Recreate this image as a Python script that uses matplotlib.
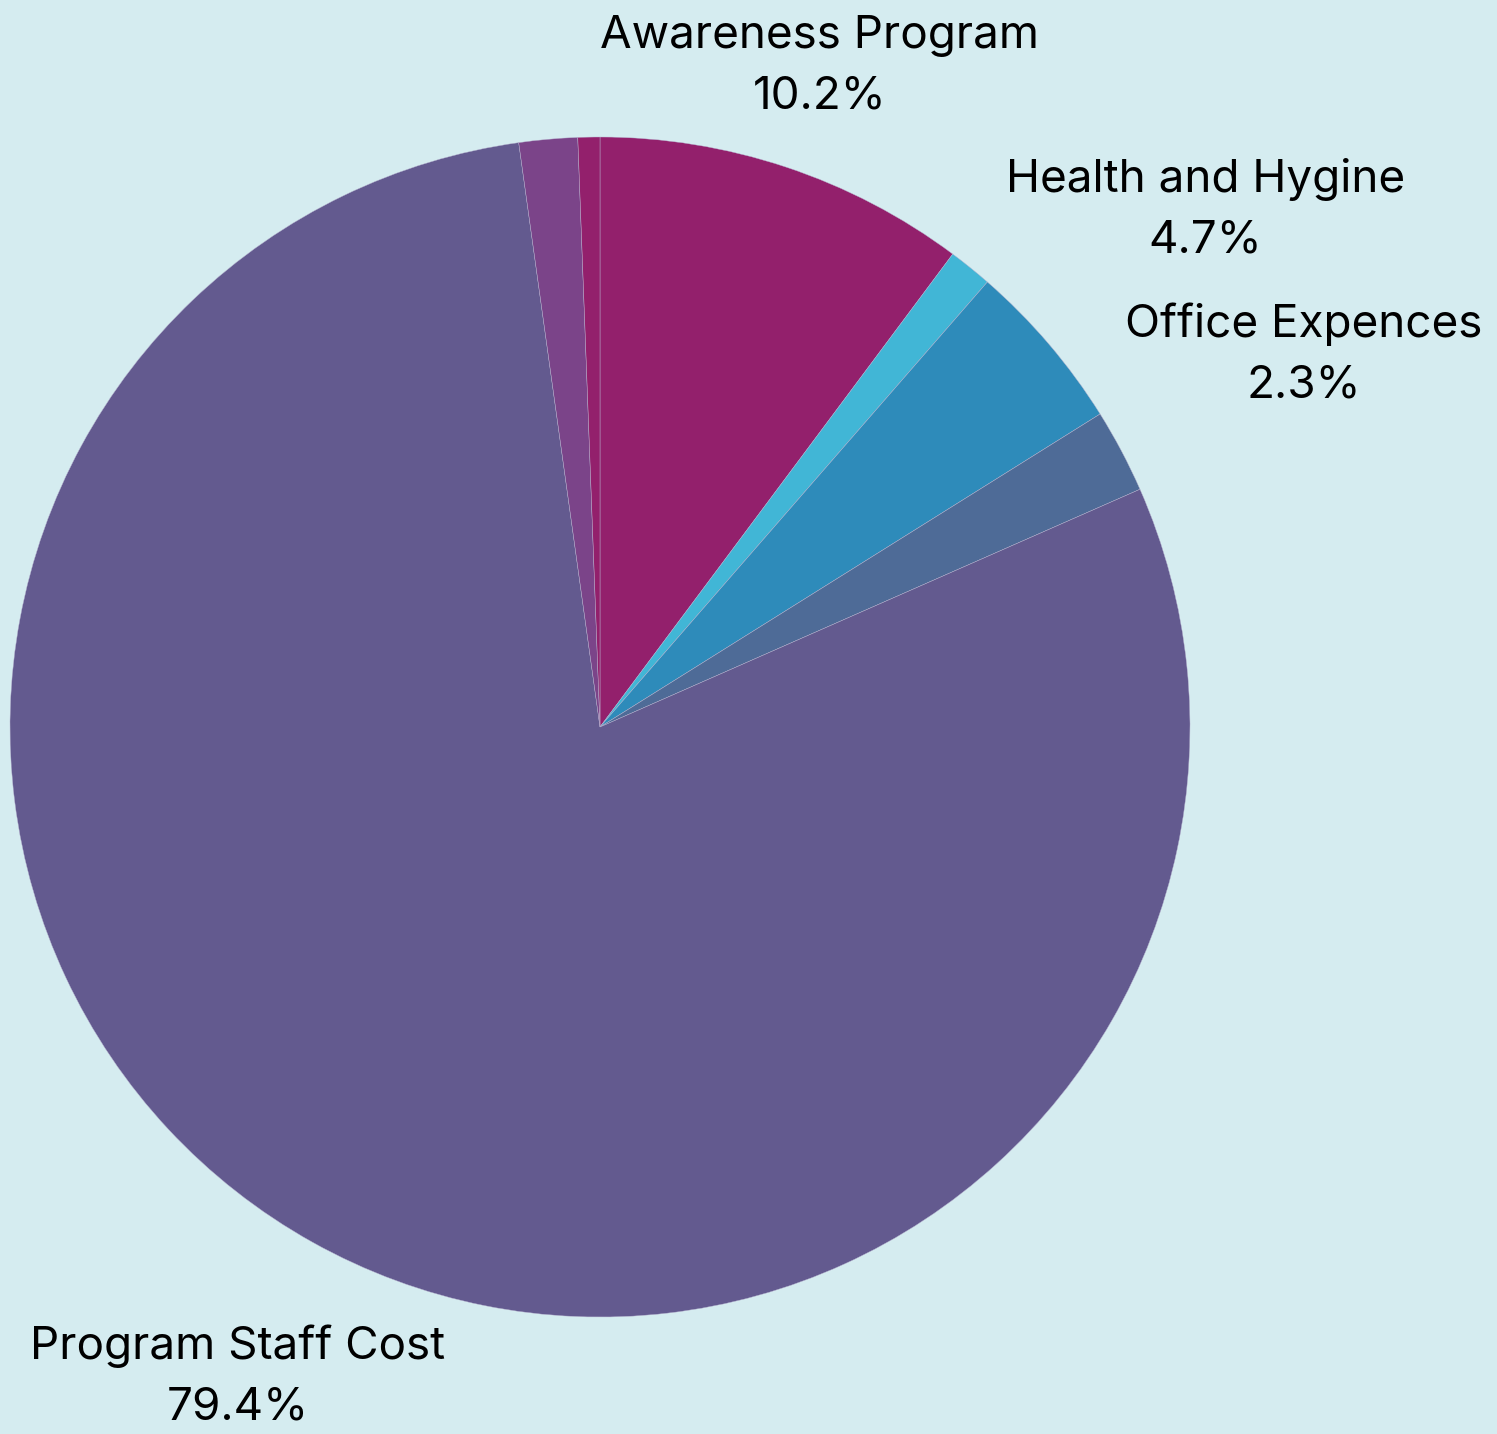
import numpy as np
import matplotlib
matplotlib.use("Agg")
import matplotlib.pyplot as plt

labels = ["Awareness Program", "", "Health and Hygine", "Office Expences",
          "Program Staff Cost", "", ""]
shares = [10.2, 1.2, 4.7, 2.3, 79.4, 1.6, 0.6]
colors = ["#93206C", "#41B6D6", "#2E8BBA", "#4E6B97", "#635A8F", "#7B4489", "#93206C"]
label_dist = [1.18, 0, 1.35, 1.35, 1.26, 0, 0]

bg = "#D5ECF0"

def main():
    plt.rcParams['font.family'] = ['Inter', 'DejaVu Sans']
    W, H = 1497, 1434
    fig = plt.figure(figsize=(W / 100, H / 100), dpi=100, facecolor=bg)
    cx, cy, r = 600, 727, 590
    ax = fig.add_axes([(cx - r) / W, (H - cy - r) / H, 2 * r / W, 2 * r / H])
    ax.set_facecolor(bg)

    wedges, _ = ax.pie(shares, colors=colors, startangle=90, counterclock=False,
                       radius=1, wedgeprops=dict(linewidth=0.3, edgecolor="#B8B4D0"))
    ax.set_xlim(-1, 1)
    ax.set_ylim(-1, 1)
    ax.set_aspect("equal")
    ax.axis("off")

    for w, name, val, d in zip(wedges, labels, shares, label_dist):
        if not name:
            continue
        mid = np.deg2rad((w.theta1 + w.theta2) / 2)
        x, y = d * np.cos(mid), d * np.sin(mid)
        ax.text(x, y, f"{name}\n{val}%", ha="center", va="center", fontsize=33,
                linespacing=1.55, color="black", clip_on=False)

    fig.savefig("out.png", dpi=100, facecolor=bg)

if __name__ == '__main__':
    main()
